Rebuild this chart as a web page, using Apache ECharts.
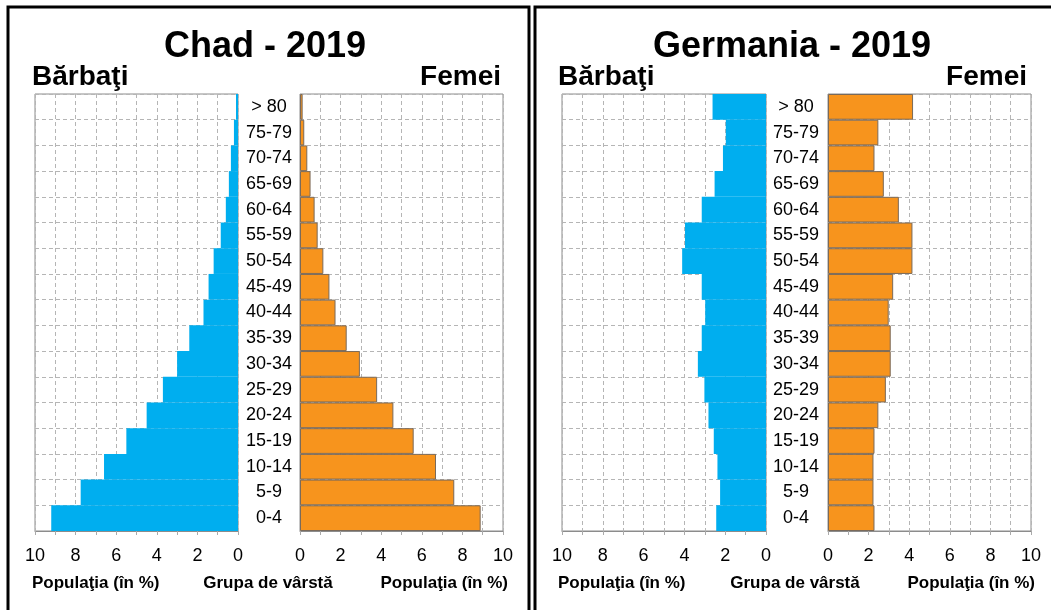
<!DOCTYPE html>
<html>
<head>
<meta charset="utf-8">
<title>Piramida varstelor</title>
<script src="https://cdn.jsdelivr.net/npm/echarts@6.0.0/dist/echarts.min.js"></script>
<style>
  html, body { margin: 0; padding: 0; background: #fff; }
  #chart { width: 1051px; height: 610px; }
</style>
</head>
<body>
<div id="chart"></div>
<script>
// age groups, bottom to top
const ageGroups = ["0-4", "5-9", "10-14", "15-19", "20-24", "25-29", "30-34", "35-39",
  "40-44", "45-49", "50-54", "55-59", "60-64", "65-69", "70-74", "75-79", "> 80"];

const chadMen = [9.2, 7.75, 6.6, 5.5, 4.5, 3.7, 3.0, 2.4, 1.7, 1.45, 1.2, 0.85, 0.6, 0.45, 0.35, 0.2, 0.1];
const chadWomen = [8.9, 7.6, 6.7, 5.6, 4.6, 3.8, 2.95, 2.3, 1.75, 1.45, 1.15, 0.87, 0.72, 0.52, 0.36, 0.21, 0.13];

const germanyMen = [2.44, 2.25, 2.38, 2.56, 2.82, 3.02, 3.34, 3.15, 2.98, 3.15, 4.11, 3.97, 3.15, 2.52, 2.11, 1.97, 2.62];
const germanyWomen = [2.29, 2.24, 2.24, 2.29, 2.48, 2.85, 3.09, 3.09, 2.99, 3.21, 4.16, 4.16, 3.49, 2.75, 2.29, 2.48, 4.19];

const xTicks = [0, 2, 4, 6, 8, 10];

const FONT = '"Liberation Sans", Arial, sans-serif';
const BLUE = "#00AEEF";
const ORANGE = "#F7941D";

const chart = echarts.init(document.getElementById("chart"));

function grid(left, width) {
  return {
    left: left, top: 94, width: width, height: 437,
    show: true, borderColor: "#8c8c8c", borderWidth: 1, backgroundColor: "transparent",
  };
}

function xAxis(idx, inverse) {
  return {
    type: "value", gridIndex: idx, min: 0, max: 10, interval: 1, inverse: inverse,
    axisLine: { show: true, lineStyle: { color: "#8c8c8c" } },
    axisTick: { show: true, length: 4, lineStyle: { color: "#aaa" } },
    axisLabel: {
      margin: 16, color: "#000", fontSize: 18, fontFamily: FONT,
      formatter: (v) => (xTicks.indexOf(v) >= 0 ? String(v) : ""),
    },
    splitLine: { show: true, lineStyle: { color: "#b5b5b5", type: [4, 3] } },
  };
}

function yAxis(idx, labels, margin) {
  return {
    type: "category", gridIndex: idx, data: ageGroups, position: "right",
    axisLine: { show: false },
    axisTick: { show: false },
    axisLabel: {
      show: labels, margin: margin, align: "center", color: "#000",
      fontSize: 18, fontFamily: FONT,
    },
    splitLine: { show: true, lineStyle: { color: "#b5b5b5", type: [4, 3] } },
  };
}

function bars(idx, data, color, border) {
  return {
    type: "bar", xAxisIndex: idx, yAxisIndex: idx, data: data,
    barWidth: "100%", barCategoryGap: 0, silent: true,
    itemStyle: { color: color, borderColor: border, borderWidth: border ? 1 : 0 },
  };
}

function text(t, x, y, size, align) {
  return {
    type: "text", z: 100,
    style: {
      text: t, x: x, y: y, fill: "#000",
      font: "bold " + size + "px " + FONT,
      align: align, textAlign: align, verticalAlign: "middle", textVerticalAlign: "middle",
    },
  };
}

const option = {
  animation: false,
  grid: [grid(35, 203), grid(300, 203), grid(562, 204), grid(828, 203)],
  xAxis: [xAxis(0, true), xAxis(1, false), xAxis(2, true), xAxis(3, false)],
  yAxis: [yAxis(0, true, 31), yAxis(1, false, 0), yAxis(2, true, 30), yAxis(3, false, 0)],
  series: [
    bars(0, chadMen, BLUE, null),
    bars(1, chadWomen, ORANGE, "#7a6a5a"),
    bars(2, germanyMen, BLUE, null),
    bars(3, germanyWomen, ORANGE, "#7a6a5a"),
  ],
  graphic: [
    // panel frames
    { type: "rect", shape: { x: 8, y: 7, width: 521, height: 640 }, style: { fill: null, stroke: "#000", lineWidth: 3 } },
    { type: "rect", shape: { x: 535, y: 7, width: 540, height: 640 }, style: { fill: null, stroke: "#000", lineWidth: 3 } },
    text("Chad - 2019", 265, 47, 36, "center"),
    text("Germania - 2019", 792, 47, 36, "center"),
    text("Bărbaţi", 32, 77, 28, "left"),
    text("Femei", 501, 77, 28, "right"),
    text("Bărbaţi", 558, 77, 28, "left"),
    text("Femei", 1027, 77, 28, "right"),
    text("Populaţia (în %)", 32, 583, 17, "left"),
    text("Grupa de vârstă", 268, 583, 17, "center"),
    text("Populaţia (în %)", 508, 583, 17, "right"),
    text("Populaţia (în %)", 558, 583, 17, "left"),
    text("Grupa de vârstă", 795, 583, 17, "center"),
    text("Populaţia (în %)", 1035, 583, 17, "right"),
  ],
};

chart.setOption(option);
</script>
</body>
</html>
